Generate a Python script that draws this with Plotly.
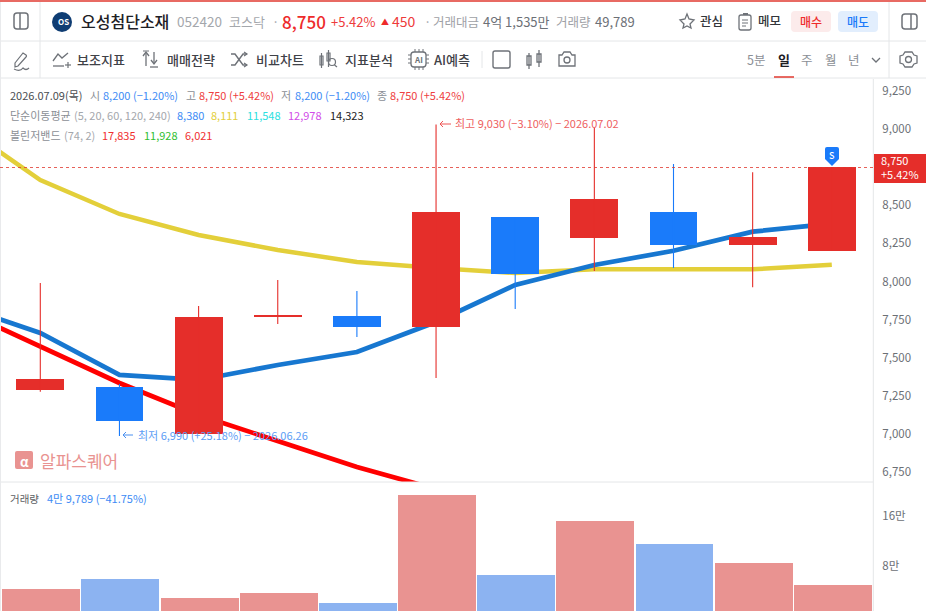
import plotly.graph_objects as go

W, H = 926, 611
dates = ["06.25", "06.26", "06.29", "06.30", "07.01", "07.02", "07.03", "07.06", "07.07", "07.08", "07.09"]
opens = [7289, 7307, 7001, 7768, 7774, 7702, 8423, 8286, 8456, 8240, 8200]
closes = [7359, 7084, 7766, 7779, 7702, 8456, 8050, 8541, 8240, 8294, 8750]
highs = [7991, 7328, 7840, 8010, 7938, 9030, 8423, 9007, 8771, 8716, 8750]
lows = [7278, 6988, 7001, 7722, 7637, 7368, 7820, 8069, 8089, 7962, 8200]
volumes = [43200, 59200, 28800, 36800, 20800, 193600, 65600, 152000, 115200, 85460, 49789]
line_idx = list(range(-1, 11))
ma5 = [7840, 7663, 7388, 7355, 7453, 7538, 7735, 7978, 8109, 8202, 8327, 8380]
ma20 = [9026, 8666, 8443, 8305, 8207, 8128, 8089, 8056, 8080, 8080, 8080, 8111]
lower = [7814, 7571, 7335, 7125, 6955, 6784, 6640]
price_ticks = [6750, 7000, 7250, 7500, 7750, 8000, 8250, 8500, 9000, 9250]
vol_ticks = [80000, 160000]
vol_labels = ["8만", "16만"]

UP, DOWN = "#E52E2A", "#1A7BFA"
UPV, DOWNV = "#E99391", "#8CB3F1"
FONT = "Noto Sans CJK KR"
GREY, LINE = "#8B8F96", "#E4E6E8"
idx = list(range(len(dates)))
ups = [i for i in idx if closes[i] >= opens[i]]
downs = [i for i in idx if closes[i] < opens[i]]

fig = go.Figure()
for ys, col, lw in ((ma20, "#E3CF3A", 4.5), (ma5, "#1777D0", 4.7)):
    fig.add_trace(go.Scatter(x=line_idx[:len(ys)], y=ys, mode="lines", line=dict(color=col, width=lw), xaxis="x", yaxis="y"))
fig.add_trace(go.Scatter(x=line_idx[:len(lower)], y=lower, mode="lines", line=dict(color="#FF0000", width=4.7), xaxis="x", yaxis="y"))
for ids, col in ((ups, UP), (downs, DOWN)):
    wx, wy = [], []
    for i in ids:
        wx += [i, i, None]
        wy += [lows[i], highs[i], None]
    fig.add_trace(go.Scatter(x=wx, y=wy, mode="lines", line=dict(color=col, width=1.1), xaxis="x", yaxis="y3"))
    fig.add_trace(go.Bar(x=ids, y=[abs(closes[i] - opens[i]) for i in ids], base=[min(opens[i], closes[i]) for i in ids],
                         width=0.605, marker=dict(color=col, line_width=0), xaxis="x", yaxis="y3"))
fig.add_trace(go.Bar(x=idx, y=volumes, width=0.985,
                     marker=dict(color=[UPV if closes[i] >= opens[i] else DOWNV for i in idx], line_width=0),
                     xaxis="x2", yaxis="y2"))

def X(x): return x / W
def Y(y): return 1 - y / H

shapes, annos = [], []
def rect(x0, y0, x1, y1, fill="rgba(0,0,0,0)", line=None, lw=1, radius=0):
    if radius:
        r = radius
        path(f"M{x0+r},{y0} L{x1-r},{y0} Q{x1},{y0} {x1},{y0+r} L{x1},{y1-r} Q{x1},{y1} {x1-r},{y1} L{x0+r},{y1} Q{x0},{y1} {x0},{y1-r} L{x0},{y0+r} Q{x0},{y0} {x0+r},{y0} Z", fill, line, lw)
        return
    shapes.append(dict(type="rect", xref="paper", yref="paper", x0=X(x0), x1=X(x1), y0=Y(y0), y1=Y(y1),
                       fillcolor=fill, line=dict(color=line or "rgba(0,0,0,0)", width=lw if line else 0)))
def seg(x0, y0, x1, y1, col=LINE, lw=1, dash="solid"):
    shapes.append(dict(type="line", xref="paper", yref="paper", x0=X(x0), x1=X(x1), y0=Y(y0), y1=Y(y1),
                       line=dict(color=col, width=lw, dash=dash)))
def path(d, fill="rgba(0,0,0,0)", line=None, lw=1):
    toks = d.replace(",", " ").split()
    res = []
    isx = True
    for t in toks:
        cmd = ""
        if t[0].isalpha():
            cmd, t = t[0], t[1:]
            isx = True
        if t:
            v = float(t)
            v = X(v) if isx else Y(v)
            isx = not isx
            res.append(f"{cmd}{v:.5f}")
        else:
            res.append(cmd)
    shapes.append(dict(type="path", xref="paper", yref="paper", path=" ".join(res), fillcolor=fill,
                       line=dict(color=line or "rgba(0,0,0,0)", width=lw if line else 0)))
def circle(cx, cy, r, fill="rgba(0,0,0,0)", line=None, lw=1):
    shapes.append(dict(type="circle", xref="paper", yref="paper", x0=X(cx - r), x1=X(cx + r), y0=Y(cy - r), y1=Y(cy + r),
                       fillcolor=fill, line=dict(color=line or "rgba(0,0,0,0)", width=lw if line else 0)))
def text(x, y, s, col="#33363B", size=12, anchor="left", bold=False, weight=None):
    annos.append(dict(xref="paper", yref="paper", x=X(x), y=Y(y), text=f"<b>{s}</b>" if bold else s, showarrow=False,
                      xanchor=anchor, yanchor="middle", xshift=-1 if anchor == "left" else 0, align=anchor, borderpad=0,
                      font=dict(family=FONT, size=size, color=col, weight=weight or 400)))

ICON = "#6E7278"
# frame lines
seg(0, 1, W, 1, "#E0392F", 1.5)
seg(0, 41, W, 41); seg(0, 78, W, 78)
seg(40, 2, 40, 78); seg(889, 2, 889, 78)
seg(873.3, 79, 873.3, H); seg(0, 482, 873, 482)
seg(0.5, 2, 0.5, H, "#E9EAEC", 1)

# header
rect(14, 13, 28, 29, line=ICON, lw=1.5, radius=3); seg(20, 13, 20, 29, ICON, 1.5)
circle(62, 22, 10, "#0F3D73")
text(63, 22, "OS", "#FFFFFF", 8, "center", True)
text(81, 21, "오성첨단소재", "#1E2025", 16, weight=500)
text(177, 21, "052420", "#A4A7AC", 13.5)
text(229, 21, "코스닥", "#A4A7AC", 13)
text(272, 21, "·", "#A4A7AC", 13)
text(282, 21, "8,750", "#EE2B2B", 17, weight=500)
text(331, 21, "+5.42%", "#EE3B3B", 13)
text(381, 22, "▲", "#EE2B2B", 8)
text(392, 21, "450", "#EE3B3B", 14)
text(424, 21, "·", "#A4A7AC", 13)
text(433, 21, "거래대금", "#9EA1A6", 12.5)
text(483, 21, "4억 1,535만", "#6C7076", 13)
text(556, 21, "거래량", "#9EA1A6", 12.5)
text(595, 21, "49,789", "#6C7076", 13)
path("M687,14 L689,19 L694,20 L690,24 L691,28 L687,26 L683,28 L684,24 L680,20 L685,19 Z", line=ICON, lw=1.3)
text(700, 20, "관심", "#33363B", 12.5, weight=500)
rect(739, 15, 751, 30, line=ICON, lw=1.3, radius=2); seg(743, 14, 748, 14, ICON, 2)
seg(742, 20, 748, 20, ICON, 1); seg(742, 23, 748, 23, ICON, 1); seg(742, 26, 746, 26, ICON, 1)
text(758, 20, "메모", "#33363B", 12.5, weight=500)
rect(791, 11, 831, 32, "#FCEBEB", radius=4)
text(811, 21, "매수", "#EE2B2B", 12, "center", weight=500)
rect(838, 11, 878, 32, "#E2EEFD", radius=4)
text(858, 21, "매도", "#1A7BFA", 12, "center", weight=500)
rect(902, 14, 917, 29, line=ICON, lw=1.5, radius=3); seg(911, 14, 911, 29, ICON, 1.5)

# toolbar
path("M15,63 L23,53 L26,55 Q27,56 26,57 L18,66 L15,67 Z", line=ICON, lw=1.2)
path("M14,69 Q20,72 23,68 Q26,71 29,68", line=ICON, lw=1.2)
path("M53,61 L58,54 L62,58 L68,53", line=ICON, lw=1.3)
seg(53, 66, 64, 66, ICON, 1.3); seg(68, 62, 68, 68, ICON, 1.2); seg(65, 65, 71, 65, ICON, 1.2)
seg(146, 53, 146, 66, ICON, 1.3); path("M143,56 L146,52 L149,56", line=ICON, lw=1.3); seg(143, 51, 149, 51, ICON, 1)
seg(154, 52, 154, 63, ICON, 1.3); path("M151,60 L154,64 L157,60", line=ICON, lw=1.3); seg(150, 67, 158, 67, ICON, 1.3)
path("M231,54 L235,54 L243,65 L247,65", line=ICON, lw=1.4); path("M231,65 L235,65 L243,54 L247,54", line=ICON, lw=1.4)
path("M244,52 L247,54 L244,56", line=ICON, lw=1.2); path("M244,63 L247,65 L244,67", line=ICON, lw=1.2)
text(77, 59, "보조지표", "#3F4248", 13, weight=500)
text(167, 59, "매매전략", "#3F4248", 13, weight=500)
text(256, 59, "비교차트", "#3F4248", 13, weight=500)
text(345, 59, "지표분석", "#3F4248", 13, weight=500)
text(434, 59, "AI예측", "#3F4248", 13, weight=500)
rect(320, 56, 323, 65, line=ICON, lw=1.2); seg(321.5, 53, 321.5, 68, ICON, 1.2)
rect(327, 53, 330, 61, line=ICON, lw=1.2); seg(328.5, 50, 328.5, 67, ICON, 1.2)
circle(332, 62, 3.5, line=ICON, lw=1.2); seg(334.5, 65, 337, 67, ICON, 1.2)
rect(411, 52, 426, 67, line=ICON, lw=1.3, radius=3)
for py in (55, 59, 63):
    seg(408, py, 411, py, ICON, 1); seg(426, py, 429, py, ICON, 1)
for px in (415, 419, 423):
    seg(px, 49, px, 52, ICON, 1); seg(px, 67, px, 70, ICON, 1)
text(418.5, 59.5, "AI", ICON, 8, "center", True)
seg(482, 51, 482, 68, LINE)
rect(493, 51, 510, 68, line=ICON, lw=1.4, radius=2)
rect(527, 56, 531, 65, line=ICON, lw=1.3); seg(529, 53, 529, 69, ICON, 1.3)
rect(537, 54, 541, 62, line=ICON, lw=1.3); seg(539, 50, 539, 67, ICON, 1.3)
path("M559,55 L562,55 L564,52 L570,52 L572,55 L575,55 L575,66 L559,66 Z", line=ICON, lw=1.3)
circle(567, 60, 3, line=ICON, lw=1.3)
text(747, 59, "5분", GREY, 12.5)
text(778, 59, "일", "#1E2025", 13, bold=True)
text(801, 59, "주", GREY, 12.5)
text(825, 59, "월", GREY, 12.5)
text(848, 59, "년", GREY, 12.5)
seg(774, 77, 794, 77, "#E0392F", 1.5)
path("M872,58 L876,62 L880,58", line=ICON, lw=1.3)
path("M905,52 L912,52 L914,55 L917,56 L917,63 L914,64 L912,67 L905,67 L903,64 L900,63 L900,56 L903,55 Z", line=ICON, lw=1.3)
circle(908.5, 59.5, 3, line=ICON, lw=1.3)

# info lines
BLUE_T, RED_T = "#3D8BF5", "#EE4040"
for x, s, c in [(10, "2026.07.09(목)", "#4A4D52"), (90, "시", GREY), (103, "8,200 (−1.20%)", BLUE_T), (186, "고", GREY),
                (199, "8,750 (+5.42%)", RED_T), (281, "저", GREY), (295, "8,200 (−1.20%)", BLUE_T), (377, "종", GREY),
                (390, "8,750 (+5.42%)", RED_T)]:
    text(x, 95, s, c, 11)
for x, s, c in [(10, "단순이동평균", GREY), (74, "(5, 20, 60, 120, 240)", "#A4A7AC"), (177, "8,380", "#3D8BF5"), (211, "8,111", "#E3CF3A"),
                (247, "11,548", "#2BE0E0"), (288, "12,978", "#D24BE8"), (330, "14,323", "#222222")]:
    text(x, 115, s, c, 11)
for x, s, c in [(10, "볼린저밴드", GREY), (64, "(74, 2)", "#A4A7AC"), (102, "17,835", "#F03030"), (144, "11,928", "#2FC02F"), (185, "6,021", "#F03030")]:
    text(x, 135, s, c, 11)

# high / low marks
seg(440, 124, 451, 124, "#EE5555", 1); path("M443,121 L440,124 L443,127", line="#EE5555", lw=1)
text(455, 123, "최고 9,030 (−3.10%) − 2026.07.02", "#EE6060", 11)
seg(123, 435, 133, 435, "#4A90F0", 1); path("M126,432 L123,435 L126,438", line="#4A90F0", lw=1)
text(138, 435, "최저 6,990 (+25.18%) − 2026.06.26", "#5C9DF5", 11)

# watermark
rect(15, 451, 33, 469, "#E99391", radius=2)
text(24, 461, "α", "#FFFFFF", 13, "center", True)
text(40, 460, "알파스퀘어", "#E99391", 17)

# current price
seg(0, 167.5, 873, 167.5, "#E0392F", 0.8, "dot")
rect(874, 154, 926, 183, "#E52E2A")
annos.append(dict(xref="paper", yref="paper", x=X(880), y=Y(167.5), text="8,750<br>+5.42%", showarrow=False, xanchor="left",
                  yanchor="middle", align="left", xshift=-1, font=dict(family=FONT, size=11, color="#FFFFFF")))
path("M827,147 L837,147 Q839,147 839,149 L839,159 L832,166 L825,159 L825,149 Q825,147 827,147 Z", fill="#1A7BFA")
text(832, 155.5, "S", "#FFFFFF", 9, "center", weight=500)

# volume label
text(10, 498, "거래량", "#5B5E63", 10.5)
text(47, 498, "4만 9,789 (−41.75%)", "#3D8BF5", 11)

xr = [-40.3 / 79.15, (873.3 - 40.3) / 79.15]
xr2 = [v - 1 / 79.15 for v in xr]
plot_frac = 873.3 / W
yax_common = dict(range=[6686, 9328], showgrid=False, zeroline=False)
fig.update_layout(
    width=W, height=H, margin=dict(l=0, r=0, t=0, b=0, pad=0), paper_bgcolor="#FFFFFF", plot_bgcolor="#FFFFFF",
    showlegend=False, bargap=0, barmode="overlay", font=dict(family=FONT),
    xaxis=dict(domain=[0, plot_frac], range=xr, visible=False, anchor="y"),
    xaxis2=dict(domain=[0, plot_frac], range=xr2, visible=False, anchor="y2"),
    yaxis=dict(**yax_common, domain=[1 - 482 / H, 1 - 79 / H], side="right", anchor="x", tickvals=price_ticks,
               ticktext=[f"{v:,}" for v in price_ticks],
               tickfont=dict(size=11.5, color="#6C7076", family=FONT), ticks="", showline=False, ticklabelstandoff=8),
    yaxis3=dict(**yax_common, overlaying="y", visible=False, anchor="x"),
    yaxis2=dict(domain=[0, 1 - 483 / H], range=[8000, 212800], side="right", anchor="x2", showgrid=False, zeroline=False,
                tickvals=vol_ticks, ticktext=vol_labels, tickfont=dict(size=11.5, color="#6C7076", family=FONT), ticks="",
                ticklabelstandoff=8),
    shapes=shapes, annotations=annos,
)
fig.write_html("out.html", config=dict(displayModeBar=False),
               post_script="document.body.style.margin='0';document.documentElement.style.overflow='hidden';")
